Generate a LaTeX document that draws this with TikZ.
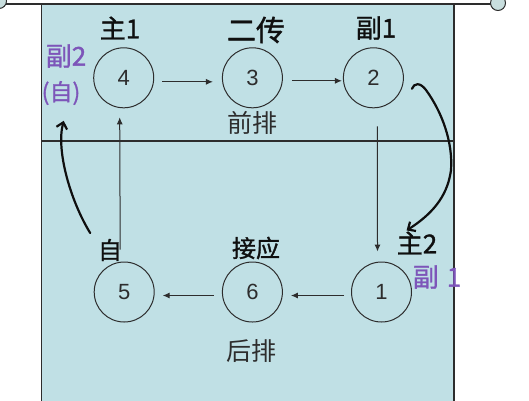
\documentclass[tikz,border=0pt]{standalone}
\usepackage{fontspec}
\setmainfont{Liberation Sans}
\newfontfamily\cjk{Noto Sans CJK SC}
\newfontfamily\cjkh{Noto Sans CJK SC}[FakeBold=1.2]
\usetikzlibrary{arrows.meta,calc}
\definecolor{court}{RGB}{192,224,229}
\definecolor{ink}{RGB}{15,15,15}
\definecolor{purp}{RGB}{125,85,185}
\definecolor{edge}{RGB}{45,45,45}
\definecolor{netball}{RGB}{200,222,222}
\begin{document}
\begin{tikzpicture}[x=1pt,y=-1pt,
  spot/.style={circle,draw=edge,line width=1pt,minimum size=60pt,inner sep=0pt,
    font=\fontsize{22}{22}\selectfont,text=edge},
  arr/.style={draw=edge,line width=1pt,-{Latex[length=7pt,width=6pt]}},
  hand/.style={draw=ink,line width=2.2pt,line cap=round,-{Straight Barb[length=6pt,width=11pt,line width=2.2pt]}},
  hw/.style={inner sep=0pt,text=ink,font=\cjkh\fontsize{26}{26}\selectfont},
  hwp/.style={inner sep=0pt,text=purp,font=\cjkh\fontsize{26}{26}\selectfont},
  prt/.style={inner sep=0pt,text=edge,font=\cjk\fontsize{25}{25}\selectfont}]
\useasboundingbox (0,0) rectangle (529,400);
% court
\fill[court] (41.5,4) rectangle (454,402);
\draw[edge,line width=1.2pt] (41.5,4) -- (41.5,402) (454,4) -- (454,402);
\draw[edge,line width=1.2pt] (41.5,141) -- (454,141);
% net
\draw[edge,line width=1.3pt] (0,4) -- (491,4);
\draw[edge,line width=1pt,fill=netball] (498,3) circle (7.5);
\draw[edge,line width=1pt,fill=netball] (-1,1) circle (7.5);
% positions
\node[spot] (c4) at (123.7,77.8) {4};
\node[spot] (c3) at (252.4,77.8) {3};
\node[spot] (c2) at (373.4,77.8) {2};
\node[spot] (c5) at (124.2,292) {5};
\node[spot] (c6) at (252.4,292) {6};
\node[spot] (c1) at (381.5,292) {1};
% rotation arrows
\draw[arr] ([xshift=8pt,yshift=-4pt]c4.east) -- ([xshift=-9pt,yshift=-4pt]c3.west);
\draw[arr] ([xshift=9pt,yshift=-3pt]c3.east) -- ([xshift=-1pt,yshift=-3pt]c2.west);
\draw[arr] ([xshift=-7pt,yshift=-3.5pt]c1.west) -- ([xshift=8pt,yshift=-3.5pt]c6.east) ;
\draw[arr] ([xshift=-8pt,yshift=-3.5pt]c6.west) -- ([xshift=8pt,yshift=-3.5pt]c5.east);
\draw[arr] ($(c2.south)+(4,18)$) -- ($(c1.north)+(-4,-10)$);
\draw[arr] ($(c5.north)+(-4,-12)$) -- ($(c4.south)+(-4,9)$);
% handwritten arrows
\coordinate (r0) at ($(c2.east)+(8,11)$);
\coordinate (r1) at ($(c1.north east)+(3.5,-40)$);
\draw[hand] (r0) .. controls (414,83) and (420,82) .. (426,90)
  .. controls (442,112) and (453,142) .. (451,170)
  .. controls (448,192) and (437,211) .. (r1);
\coordinate (l0) at ($(c5)+(-34,-59)$);
\coordinate (l1) at ($(c4)+(-60,43)$);
\draw[hand] (l0) .. controls (70,200) and (56,150) .. (l1);
% labels
\node[hw] (t4) at (120,28) {主1};
\node[hw,font=\cjkh\fontsize{29}{29}\selectfont] (t3) at (256,30) {二传};
\node[hw] (t2) at (376,28) {副1};
\node[hwp] (p4a) at (66,56) {副2};
\node[hwp,font=\cjkh\fontsize{23}{23}\selectfont] (p4b) at (61,93) {(自)};
\node[prt] (front) at (252,123) {前排};
\node[prt] (back) at (251.5,351) {后排};
\node[hw,font=\cjkh\fontsize{24}{24}\selectfont] (t5) at (110,250) {自};
\node[hw,font=\cjkh\fontsize{24}{24}\selectfont] (t6) at (256,248) {接应};
\node[hw] (t1) at (417,243) {主2};
\node[hwp] (p1) at (437,277) {副\hspace{8pt}1};
\end{tikzpicture}
\end{document}
